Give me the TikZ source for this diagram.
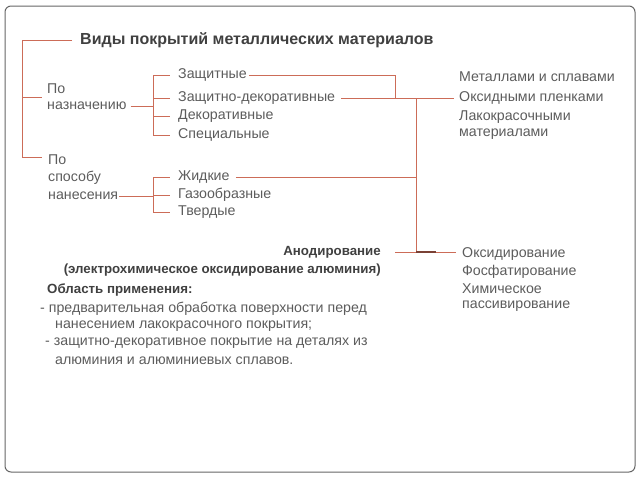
\documentclass[tikz,border=0pt]{standalone}
\usepackage{fontspec}
\setmainfont{Liberation Sans}
\definecolor{ln}{RGB}{204,108,88}
\definecolor{tx}{RGB}{92,92,92}

\begin{document}
\begin{tikzpicture}[x=1pt,y=-1pt,
 t/.style={anchor=west,inner sep=0pt,text=tx,font=\fontsize{14.2}{16}\selectfont},
 tb/.style={t,text=black!75,font=\fontsize{13.3}{16}\selectfont\bfseries},
 br/.style={draw=ln,line width=1pt}]
 \useasboundingbox (0,0) rectangle (640,480);
 \draw[gray!80!black,line width=1pt,rounded corners=6pt] (5,6) rectangle (635,472); %рамка
 \node[tb,font=\fontsize{16}{18}\selectfont\bfseries] (title) at (80,40) {Виды покрытий металлических материалов};
 % левая колонка
 \node[t] (po1) at (47,89) {По};
 \node[t] (po2) at (47,106) {назначению};
 \node[t] (sp1) at (48,160) {По};
 \node[t] (sp2) at (48,178) {способу};
 \node[t] (sp3) at (48,196) {нанесения};
 % виды
 \node[t] (zash) at (178,75) {Защитные};
 \node[t] (zdek) at (178,98) {Защитно-декоративные};
 \node[t] (dek) at (178,116) {Декоративные};
 \node[t] (spec) at (178,135) {Специальные};
 \node[t] (zhid) at (178,177) {Жидкие};
 \node[t] (gaz) at (178,195) {Газообразные};
 \node[t] (tv) at (178,212) {Твердые};
 % правая колонка
 \node[t] (met) at (459,77) {Металлами и сплавами};
 \node[t] (oks) at (459,98) {Оксидными пленками};
 \node[t] (lak1) at (459,117) {Лакокрасочными};
 \node[t] (lak2) at (459,134) {материалами};
 \node[t] (oksid) at (462,254) {Оксидирование};
 \node[t] (fosf) at (462,272) {Фосфатирование};
 \node[t] (him1) at (462,289) {Химическое};
 \node[t] (him2) at (462,306) {пассивирование};
 % анодирование
 \node[tb,anchor=east] (anod) at (381,252) {Анодирование};
 \node[tb,anchor=east] (anod2) at (381,270) {(электрохимическое оксидирование алюминия)};
 \node[tb] (obl) at (47,290) {Область применения:};
 \node[t] (obl1) at (40,309) {- предварительная обработка поверхности перед};
 \node[t] (obl2) at (55,326) {нанесением лакокрасочного покрытия;};
 \node[t] (obl3) at (45,343) {- защитно-декоративное покрытие на деталях из};
 \node[t] (obl4) at (55,361) {алюминия и алюминиевых сплавов.};
 % линии
 \coordinate (tr) at (22,157);
 \coordinate (b1) at (153,0);
 \coordinate (j1) at (395,0);
 \coordinate (sp) at (416,0);
 \draw[br] ([xshift=-8pt]title.west) -| (tr) -- ++(20,0); %ствол
 \draw[br] (tr |- 97,97) -- ++(20,0);
 \draw[br] ([xshift=4pt]po2.east) -- (b1 |- po2.east);
 \draw[br] (b1 |- zash.west) -- (b1 |- spec.west);
 \foreach \n in {zash,zdek,dek,spec,zhid,gaz,tv}
  \draw[br] (b1 |- \n.west) -- ([xshift=-8pt]\n.west);
 \draw[br] ([xshift=1pt]sp3.east) -- (b1 |- sp3.east);
 \draw[br] (b1 |- zhid.west) -- (b1 |- tv.west);
 \draw[br] ([xshift=2pt]zash.east) -| (j1 |- zdek.east);
 \draw[br] ([xshift=6pt]zdek.east) -- ([xshift=-5pt]oks.west);
 \draw[br] (sp |- zdek.east) -- (sp |- anod.east);
 \draw[br] ([xshift=6pt]zhid.east) -- (sp |- zhid.east);
 \draw[br] ([xshift=14pt]anod.east) -- ([xshift=-6pt]oksid.west |- anod.east);
 \draw[line width=1.3pt,ln!60!black] (sp |- anod.east) -- ++(20,0);
\end{tikzpicture}
\end{document}
